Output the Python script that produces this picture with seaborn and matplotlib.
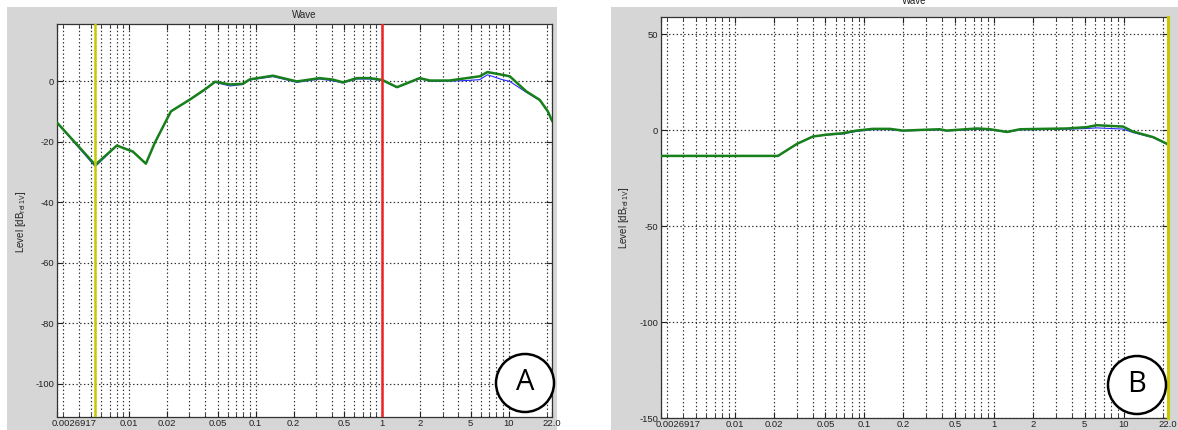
import numpy as np
import pandas as pd
import matplotlib
matplotlib.use("Agg")
import matplotlib.pyplot as plt
import matplotlib.transforms as mtransforms
import seaborn as sns
from matplotlib.patches import Rectangle, Ellipse

# frequency axis (kHz)
freq_a = [0.0026917, 0.0054, 0.0080, 0.0107, 0.01357, 0.016, 0.0214, 0.0302, 0.0398,
          0.0478, 0.0627, 0.079, 0.090, 0.137, 0.212, 0.321, 0.408, 0.489, 0.631, 0.80,
          1.0, 1.31, 1.98, 2.38, 3.39, 4.67, 5.9, 6.8, 8.9, 10.2, 13.8, 17.6, 20.4, 22.0]
green_a = [-13.6, -27.6, -21.2, -23.2, -27.2, -20.2, -9.9, -6.0, -2.6,
           -0.1, -1.0, -0.8, 0.7, 1.9, 0.0, 1.1, 0.6, -0.3, 1.1, 1.1,
           0.5, -1.9, 1.1, 0.3, 0.3, 1.1, 1.7, 3.1, 2.2, 1.7, -3.3, -6.1, -9.9, -13.0]
blue_a = [-13.6, -28.2, -21.2, -23.2, -27.2, -20.2, -9.9, -6.0, -2.8,
          -0.3, -1.5, -1.0, 0.5, 1.6, -0.3, 0.8, 0.2, -0.5, 0.8, 0.8,
          0.3, -2.0, 0.9, 0.1, 0.1, 0.3, 0.6, 2.2, 0.6, 0.0, -3.6, -6.3, -10.0, -13.0]

freq_b = [0.0026917, 0.0215, 0.0302, 0.040, 0.0513, 0.0676, 0.087, 0.116, 0.157, 0.198,
          0.38, 0.43, 0.74, 0.93, 1.26, 1.59, 3.65, 5.2, 6.2, 9.9, 11.8, 16.9, 21.6, 22.0]
green_b = [-13.4, -13.4, -7.1, -3.3, -2.3, -1.6, -0.2, 0.7, 0.7, -0.2,
           0.5, -0.2, 0.9, 0.5, -0.9, 0.5, 0.9, 1.6, 2.6, 1.9, -0.7, -3.6, -7.1, -7.6]
blue_b = [-13.4, -13.4, -7.1, -3.3, -2.5, -2.0, -0.6, 0.3, 0.3, -0.4,
          0.2, -0.4, 0.5, 0.2, -1.1, 0.2, 0.5, 0.9, 1.2, 0.6, -1.2, -3.9, -7.3, -7.8]

cursor_yellow_a = 0.0054
cursor_red_a = 1.0
cursor_yellow_b = 22.0

xmajor = [0.0026917, 0.01, 0.02, 0.05, 0.1, 0.2, 0.5, 1, 2, 5, 10, 22.0]
xmajor_labels = ["0.0026917", "0.01", "0.02", "0.05", "0.1", "0.2", "0.5", "1", "2", "5", "10", "22.0"]
xminor = [m * 10.0 ** e for e in range(-3, 2) for m in range(1, 10)]
xminor = [v for v in xminor if 0.0027 < v < 21.9]

plt.rcParams['font.family'] = ['Liberation Sans', 'DejaVu Sans']

W, H = 1178, 430
fig = plt.figure(figsize=(W / 100, H / 100), dpi=100)
fig.patch.set_facecolor('white')

# grey figure panels
fig.add_artist(Rectangle((7 / W, 0), 550 / W, 423 / H, transform=fig.transFigure,
                         facecolor='#d6d6d6', edgecolor='none', zorder=0))
fig.add_artist(Rectangle((611 / W, 0), 567 / W, 423 / H, transform=fig.transFigure,
                         facecolor='#d6d6d6', edgecolor='none', zorder=0))


def box(l, r, t, b):
    return [l / W, 1 - b / H, (r - l) / W, (b - t) / H]


ax_a = fig.add_axes(box(57, 552, 24, 417))
ax_b = fig.add_axes(box(661, 1168, 17, 418))

grid_kw = dict(color='#303030', linestyle=(0, (1.2, 2.0)), linewidth=0.85)


def style(ax, ylim, yticks):
    ax.set_xscale('log')
    ax.set_xlim(0.0026917, 22.0)
    ax.set_ylim(*ylim)
    ax.set_facecolor('white')
    ax.set_xticks(xminor, minor=True)
    ax.set_xticks(xmajor)
    ax.set_xticklabels(xmajor_labels)
    ax.xaxis.set_minor_formatter(matplotlib.ticker.NullFormatter())
    ax.set_yticks(yticks)
    ax.set_yticklabels([str(v) for v in yticks])
    ax.grid(True, which='both', axis='x', **grid_kw)
    ax.grid(True, which='major', axis='y', **grid_kw)
    ax.tick_params(which='both', direction='in', top=True, right=True,
                   labelsize=6.8, colors='#222222', pad=2)
    ax.tick_params(which='major', length=4)
    ax.tick_params(which='minor', length=3)
    ax.tick_params(axis='x', pad=1.5)
    for s in ax.spines.values():
        s.set_color('#333333')
        s.set_linewidth(0.9)
    ax.set_axisbelow(True)
    # first frequency label sits to the right of the axis edge, as in the original
    first = ax.get_xticklabels()[0]
    first.set_horizontalalignment('left')
    first.set_transform(first.get_transform() +
                        mtransforms.ScaledTranslation(-5 / 100, 0, fig.dpi_scale_trans))


df_a = pd.DataFrame({'f': freq_a, 'green': green_a, 'blue': blue_a})
df_b = pd.DataFrame({'f': freq_b, 'green': green_b, 'blue': blue_b})

for ax, df in [(ax_a, df_a), (ax_b, df_b)]:
    sns.lineplot(data=df, x='f', y='blue', ax=ax, color='#2a2aff', linewidth=0.8, zorder=3)
    sns.lineplot(data=df, x='f', y='green', ax=ax, color='#17801a', linewidth=1.8, zorder=4)
    ax.set_xlabel('')
    ax.set_ylabel('')

style(ax_a, (-111, 19), [-100, -80, -60, -40, -20, 0])
style(ax_b, (-150, 59), [-150, -100, -50, 0, 50])

ax_a.axvline(cursor_yellow_a, color='#c8c800', linewidth=1.8, zorder=5)
ax_a.axvline(cursor_red_a, color='#ee2222', linewidth=1.8, zorder=5)
ax_b.axvline(cursor_yellow_b, color='#c8c800', linewidth=2.2, zorder=5, clip_on=False)

ax_a.set_title('Wave', fontsize=7, pad=4, color='#222222')
fig.text(914 / W, 1 - 1 / H, 'Wave', fontsize=7, ha='center', va='center', color='#222222')

ylab = 'Level [dB$_{\\mathregular{rel\\,1V}}$]'
fig.text(21 / W, 1 - 222 / H, ylab, rotation=90, fontsize=7, ha='center', va='center', color='#222222')
fig.text(624 / W, 1 - 218 / H, ylab, rotation=90, fontsize=7, ha='center', va='center', color='#222222')

# panel markers
for cx, cy, letter in [(525, 383, 'A'), (1137, 385, 'B')]:
    fig.add_artist(Ellipse((cx / W, 1 - cy / H), 58 / W, 58 / H, transform=fig.transFigure,
                           facecolor='white', edgecolor='black', linewidth=1.8, zorder=10))
    fig.text(cx / W, 1 - cy / H, letter, fontsize=21, ha='center', va='center',
             family=['Open Sans', 'DejaVu Sans'], zorder=11)

fig.savefig('out.png', dpi=100)
